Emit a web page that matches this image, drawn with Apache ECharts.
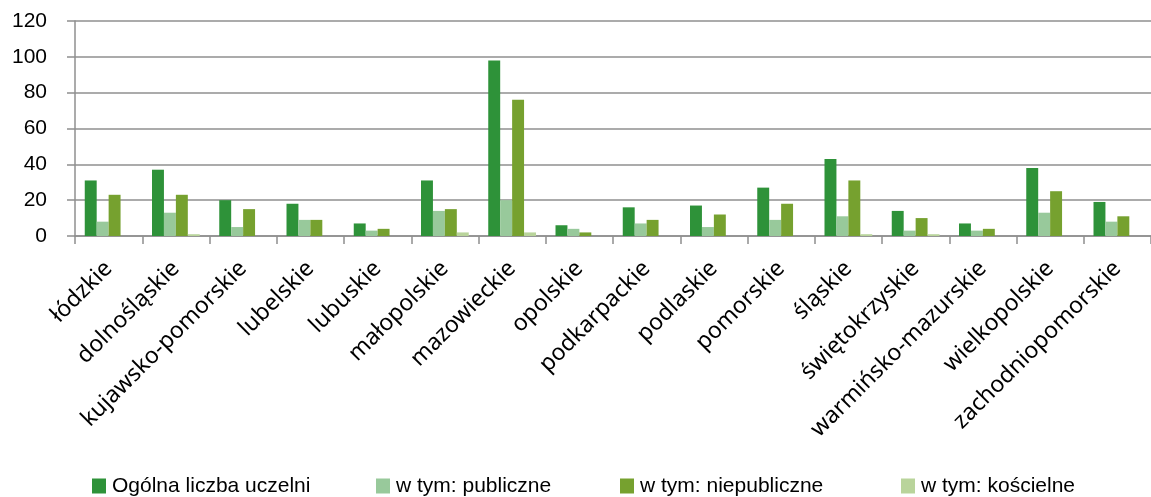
<!DOCTYPE html>
<html>
<head>
<meta charset="utf-8">
<script src="https://cdn.jsdelivr.net/npm/echarts@6/dist/echarts.min.js"></script>
<style>
  html, body { margin: 0; padding: 0; background: #fff; }
  #chart { width: 1151px; height: 497px; }
</style>
</head>
<body>
<div id="chart"></div>
<script>
  // województwa
  const regions = [
    'łódzkie', 'dolnośląskie', 'kujawsko-pomorskie', 'lubelskie', 'lubuskie',
    'małopolskie', 'mazowieckie', 'opolskie', 'podkarpackie', 'podlaskie',
    'pomorskie', 'śląskie', 'świętokrzyskie', 'warmińsko-mazurskie',
    'wielkopolskie', 'zachodniopomorskie'
  ];
  const seriesNames = ['Ogólna liczba uczelni', 'w tym: publiczne', 'w tym: niepubliczne', 'w tym: kościelne'];
  const total      = [31, 37, 20, 18, 7, 31, 98, 6, 16, 17, 27, 43, 14, 7, 38, 19];
  const publicU    = [8, 13, 5, 9, 3, 14, 20, 4, 7, 5, 9, 11, 3, 3, 13, 8];
  const privateU   = [23, 23, 15, 9, 4, 15, 76, 2, 9, 12, 18, 31, 10, 4, 25, 11];
  const churchU    = [0, 1, 0, 0, 0, 2, 2, 0, 0, 0, 0, 1, 1, 0, 0, 0];
  const colors = ['#2e9239', '#98c99b', '#76a12f', '#b9d49b'];
  const yTicks = { min: 0, max: 120, interval: 20 };

  const chart = echarts.init(document.getElementById('chart'));

  // każda pozycja legendy osobno, żeby trafić w układ oryginału
  const legendLeft = [87, 371, 615, 896];
  const legends = seriesNames.map((name, i) => ({
    data: [name],
    left: legendLeft[i],
    top: 469,
    itemWidth: 14,
    itemHeight: 15,
    icon: 'rect',
    textStyle: {
      fontFamily: 'Liberation Sans',
      fontSize: 21,
      lineHeight: 24,
      color: '#000',
      padding: [0, 0, 0, 1]
    }
  }));

  const values = [total, publicU, privateU, churchU];

  chart.setOption({
    animation: false,
    backgroundColor: '#fff',
    color: colors,
    grid: {
      left: 75,
      top: 21,
      width: 1086,
      height: 215
    },
    legend: legends,
    xAxis: {
      type: 'category',
      data: regions,
      axisLine: { lineStyle: { color: '#8f8f8f', width: 1.5 } },
      axisTick: { show: true, length: 8, lineStyle: { color: '#8f8f8f', width: 1.5 } },
      axisLabel: {
        interval: 0,
        rotate: 45,
        margin: 29,
        fontFamily: 'Noto Sans',
        fontSize: 23,
        color: '#000'
      }
    },
    yAxis: {
      type: 'value',
      min: yTicks.min,
      max: yTicks.max,
      interval: yTicks.interval,
      axisLine: { show: true, lineStyle: { color: '#8f8f8f', width: 1.5 } },
      axisTick: { show: true, length: 8, lineStyle: { color: '#8f8f8f', width: 1.5 } },
      splitLine: { lineStyle: { color: '#8f8f8f', width: 1.5 } },
      axisLabel: {
        margin: 28,
        fontFamily: 'Liberation Sans',
        fontSize: 21,
        color: '#000'
      }
    },
    series: seriesNames.map((name, i) => ({
      name: name,
      type: 'bar',
      data: values[i],
      barGap: '0%',
      barCategoryGap: '29%',
      itemStyle: { color: colors[i] }
    }))
  });
</script>
</body>
</html>
